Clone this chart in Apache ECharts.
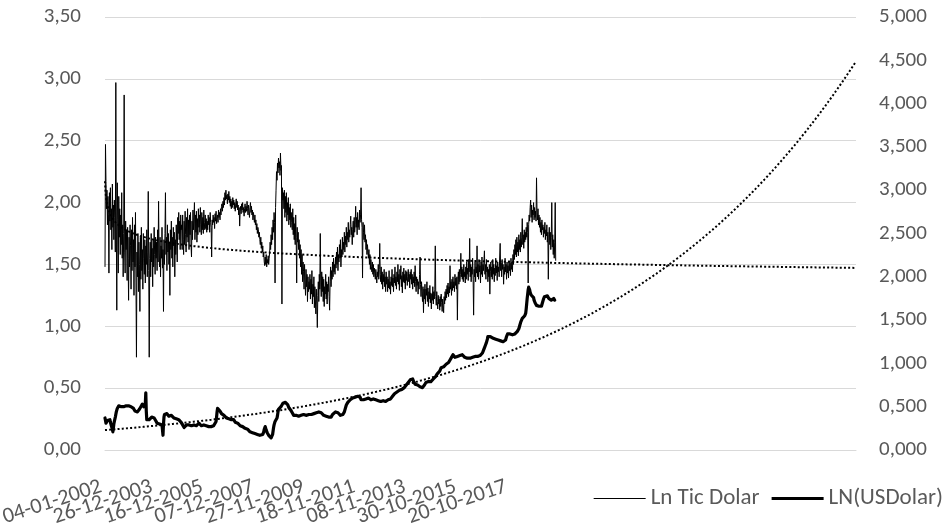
<!DOCTYPE html>
<html>
<head>
<meta charset="utf-8">
<script src="https://cdn.jsdelivr.net/npm/echarts@6/dist/echarts.min.js"></script>
<style>
  html, body { margin: 0; padding: 0; background: #ffffff; }
  #chart { width: 952px; height: 529px; }
</style>
</head>
<body>
<div id="chart"></div>
<script>
// Weekly observations starting on Friday 04-01-2002
const startYear = 2002, startMonth = 1, startDay = 4;
const labelEvery = 103;      // a date label every 103 weeks
const forecastWeeks = 611;   // trendlines are projected this many weeks forward

const seriesNames = ['Ln Tic Dolar', 'LN(USDolar)'];

// Ln Tic Dolar (left axis), one row per year
const lnTicDolar = [
  1.48,2.47,2.17,1.95,2.10,1.82,2.05,1.90,1.43,2.08,1.85,2.12,1.78,1.95,1.62,2.15,1.80,1.98,1.70,2.02,1.88,1.60,2.97,1.85,1.13,2.16,1.86,1.43,2.05,1.72,1.95,1.58,1.90,1.66,2.08,1.55,1.82,1.40,1.75,2.87,1.60,1.43,1.85,1.62,1.78,1.37,1.80,1.55,1.21,1.72,1.48,1.82,
  1.65,1.30,1.78,1.45,1.88,1.52,1.70,1.25,1.82,1.48,1.92,1.35,0.75,1.60,1.40,1.75,1.28,1.68,1.50,1.12,1.72,1.38,1.80,1.45,1.62,1.30,1.75,1.55,1.42,1.70,1.35,1.65,1.50,1.78,1.40,1.60,2.09,1.45,0.75,1.55,1.68,1.40,1.75,1.52,1.63,1.32,1.70,1.48,1.80,1.58,1.42,1.72,
  1.55,1.68,1.45,1.78,1.52,2.01,1.60,1.48,1.72,1.40,1.65,1.55,1.80,1.47,1.62,1.12,1.70,1.50,1.75,2.08,1.58,1.72,1.45,1.82,1.60,1.75,1.50,1.68,1.25,1.78,1.62,1.85,1.55,1.72,1.48,1.80,1.65,1.76,1.40,1.70,1.58,1.82,1.66,1.52,1.88,1.75,1.92,1.70,1.85,1.62,1.90,1.78,
  1.82,1.62,1.90,1.70,1.58,1.85,1.66,1.93,1.74,1.60,1.88,1.72,1.95,1.68,1.86,1.62,1.90,1.74,1.92,1.66,1.56,1.85,1.70,1.94,1.78,1.88,2.00,1.70,1.90,1.76,1.93,1.68,1.87,1.74,1.95,1.80,1.90,1.76,1.96,1.82,1.74,1.92,1.78,1.88,1.75,1.94,1.84,1.78,1.90,1.79,1.87,1.76,
  1.85,1.78,1.90,1.82,1.88,1.76,1.92,1.84,1.80,1.56,1.86,1.82,1.90,1.84,1.88,1.79,1.91,1.85,1.93,1.83,1.87,1.90,1.84,1.94,1.88,1.92,1.86,1.95,1.90,1.97,1.99,1.93,2.01,1.96,2.04,1.98,2.08,2.02,2.10,2.03,2.06,1.99,2.07,2.02,2.09,2.00,2.05,1.97,2.03,1.95,2.01,1.96,
  2.04,1.98,2.02,1.95,2.00,1.93,1.99,2.03,1.96,2.01,1.94,1.98,1.90,1.96,1.81,1.93,1.97,1.91,1.99,1.94,2.00,1.92,1.96,1.89,1.95,1.99,1.92,1.97,1.93,2.01,1.95,1.90,1.98,1.93,1.88,1.96,2.00,1.92,1.97,1.90,1.94,1.86,1.92,1.88,1.84,1.90,1.82,1.86,1.78,1.83,1.75,1.80,
  1.78,1.72,1.76,1.70,1.66,1.72,1.63,1.68,1.60,1.65,1.56,1.60,1.52,1.49,1.56,1.50,1.58,1.48,1.54,1.51,1.57,1.50,1.55,1.60,1.68,1.62,1.74,1.66,1.80,1.70,1.86,1.76,1.92,1.84,1.35,1.96,2.10,2.25,2.18,2.32,2.24,2.36,2.28,2.33,2.22,2.40,2.26,2.30,1.18,2.12,2.02,2.08,
  1.95,2.10,1.88,2.05,1.92,2.08,1.85,2.00,1.90,2.04,1.82,1.96,1.86,1.99,1.80,1.92,1.84,1.78,1.95,1.74,1.88,1.70,1.83,1.66,1.90,1.72,1.35,1.80,1.68,1.76,1.62,1.70,1.55,1.66,1.48,1.62,1.42,1.58,1.36,1.52,1.44,1.30,1.50,1.38,1.25,1.46,1.32,1.42,1.20,1.40,1.28,1.36,
  1.30,1.42,1.22,1.38,1.26,1.45,1.18,1.34,1.24,1.40,1.15,1.32,1.22,1.10,1.30,1.18,0.99,1.25,1.36,1.20,1.42,1.30,1.75,1.35,1.24,1.44,1.28,1.40,1.20,1.38,1.16,1.32,1.26,1.42,1.22,1.36,1.18,1.34,1.28,1.40,1.24,1.13,1.36,1.48,1.32,1.45,1.38,1.52,1.40,1.55,1.44,1.50,
  1.42,1.56,1.47,1.60,1.50,1.64,1.45,1.58,1.52,1.66,1.55,1.70,1.48,1.62,1.56,1.72,1.58,1.68,1.62,1.76,1.60,1.73,1.66,1.80,1.64,1.76,1.70,1.84,1.68,1.78,1.72,1.82,1.89,1.74,1.80,1.66,1.78,1.85,1.72,1.88,1.76,1.82,1.97,1.80,1.88,1.74,1.92,1.80,1.86,1.78,1.94,1.84,
  1.90,2.12,1.86,1.80,1.39,1.84,1.76,1.70,1.82,1.68,1.74,1.62,1.70,1.58,1.66,1.60,1.55,1.62,1.50,1.58,1.46,1.54,1.48,1.44,1.52,1.42,1.50,1.40,1.47,1.43,1.38,1.46,1.41,1.35,1.44,1.40,1.50,1.38,1.46,1.67,1.42,1.36,1.48,1.34,1.44,1.30,1.42,1.36,1.46,1.32,1.40,1.28,
  1.44,1.34,1.40,1.28,1.38,1.31,1.45,1.30,1.36,1.26,1.40,1.33,1.46,1.32,1.39,1.28,1.42,1.35,1.48,1.33,1.40,1.30,1.44,1.36,1.50,1.34,1.42,1.29,1.46,1.38,1.49,1.32,1.41,1.27,1.44,1.36,1.47,1.35,1.42,1.30,1.45,1.37,1.44,1.33,1.40,1.46,1.36,1.42,1.31,1.44,1.38,1.46,
  1.34,1.42,1.30,1.40,1.35,1.44,1.32,1.49,1.36,1.28,1.40,1.33,1.38,1.26,1.36,1.30,1.42,1.56,1.34,1.24,1.36,1.28,1.20,1.32,1.11,1.30,1.22,1.34,1.18,1.30,1.25,1.36,1.20,1.31,1.16,1.28,1.22,1.33,1.19,1.27,1.14,1.26,1.21,1.32,1.18,1.28,1.22,1.30,1.65,1.24,1.17,1.28,
  1.20,1.14,1.25,1.18,1.22,1.13,1.24,1.16,1.26,1.19,1.12,1.22,1.17,1.11,1.24,1.18,1.28,1.21,1.30,1.23,1.33,1.26,1.35,1.24,1.32,1.27,1.49,1.30,1.36,1.25,1.38,1.29,1.40,1.31,1.36,1.28,1.42,1.33,1.39,1.30,1.40,1.05,1.38,1.44,1.34,1.46,1.36,1.42,1.59,1.40,1.48,1.38,
  1.46,1.36,1.50,1.40,1.44,1.35,1.48,1.38,1.52,1.42,1.47,1.37,1.54,1.44,1.71,1.40,1.50,1.36,1.48,1.42,1.55,1.38,1.09,1.46,1.40,1.52,1.36,1.48,1.43,1.65,1.40,1.50,1.38,1.54,1.44,1.49,1.35,1.52,1.42,1.56,1.40,1.50,1.45,1.53,1.61,1.42,1.50,1.38,1.54,1.44,1.48,1.36,
  1.46,1.40,1.50,1.26,1.44,1.52,1.40,1.48,1.38,1.54,1.42,1.50,1.36,1.47,1.41,1.55,1.43,1.49,1.37,1.52,1.44,1.48,1.40,1.56,1.67,1.45,1.51,1.40,1.54,1.46,1.50,1.34,1.48,1.42,1.55,1.44,1.50,1.38,1.52,1.43,1.49,1.39,1.53,1.45,1.51,1.41,1.55,1.46,1.52,1.44,1.58,1.50,
  1.62,1.54,1.66,1.58,1.70,1.56,1.72,1.60,1.68,1.57,1.74,1.62,1.70,1.60,1.76,1.64,1.72,1.87,1.66,1.74,1.63,1.78,1.68,1.76,1.70,1.80,1.72,1.84,1.76,1.35,1.82,1.90,1.85,1.96,2.02,1.88,1.98,1.84,1.94,1.90,2.00,1.86,1.96,1.88,1.93,1.85,2.20,1.92,1.86,1.95,1.82,1.90,
  1.80,1.88,1.76,1.84,1.74,1.86,1.78,1.82,1.72,1.80,1.75,1.84,1.70,1.78,1.73,1.82,1.68,1.76,1.38,1.74,1.80,1.66,1.76,1.62,1.72,2.00,1.64,1.74,1.58,1.70,1.55,1.68,2.00,1.53
];

// LN(USDolar) (right axis), one row per year
const lnUsDolar = [
  0.37,0.34,0.31,0.31,0.33,0.34,0.33,0.35,0.34,0.36,0.35,0.32,0.30,0.28,0.26,0.24,0.21,0.25,0.30,0.33,0.35,0.38,0.41,0.44,0.46,0.48,0.49,0.50,0.51,0.50,0.52,0.52,0.51,0.50,0.51,0.49,0.50,0.51,0.50,0.49,0.51,0.50,0.52,0.51,0.50,0.51,0.52,0.50,0.51,0.52,0.51,0.50,
  0.51,0.50,0.51,0.50,0.49,0.50,0.48,0.47,0.46,0.45,0.46,0.44,0.45,0.46,0.44,0.45,0.44,0.46,0.47,0.48,0.49,0.50,0.51,0.52,0.53,0.54,0.52,0.50,0.49,0.51,0.53,0.66,0.45,0.35,0.36,0.35,0.34,0.36,0.35,0.34,0.36,0.37,0.36,0.38,0.39,0.40,0.40,0.39,0.37,0.36,0.35,0.34,
  0.33,0.32,0.31,0.32,0.31,0.30,0.31,0.30,0.29,0.30,0.31,0.30,0.29,0.27,0.17,0.30,0.38,0.41,0.42,0.43,0.42,0.41,0.42,0.40,0.41,0.40,0.39,0.40,0.39,0.38,0.39,0.40,0.39,0.38,0.39,0.38,0.37,0.38,0.37,0.36,0.37,0.36,0.35,0.36,0.35,0.34,0.35,0.34,0.35,0.34,0.33,0.32,
  0.31,0.30,0.29,0.28,0.27,0.26,0.26,0.25,0.27,0.28,0.29,0.30,0.31,0.31,0.30,0.29,0.30,0.29,0.30,0.29,0.28,0.29,0.30,0.29,0.28,0.29,0.30,0.29,0.28,0.29,0.28,0.29,0.30,0.29,0.30,0.31,0.30,0.29,0.30,0.29,0.28,0.29,0.30,0.29,0.28,0.29,0.28,0.27,0.28,0.29,0.28,0.27,
  0.28,0.27,0.28,0.27,0.28,0.27,0.27,0.28,0.27,0.28,0.29,0.28,0.29,0.28,0.29,0.28,0.29,0.30,0.33,0.38,0.44,0.48,0.47,0.50,0.48,0.46,0.45,0.44,0.43,0.42,0.43,0.41,0.40,0.41,0.40,0.39,0.38,0.39,0.38,0.37,0.38,0.37,0.36,0.37,0.36,0.35,0.36,0.35,0.36,0.35,0.34,0.35,
  0.35,0.34,0.35,0.34,0.33,0.32,0.33,0.32,0.31,0.32,0.31,0.30,0.31,0.30,0.29,0.28,0.29,0.28,0.27,0.28,0.27,0.27,0.26,0.25,0.26,0.25,0.24,0.25,0.24,0.23,0.24,0.23,0.22,0.23,0.22,0.21,0.22,0.21,0.20,0.21,0.20,0.19,0.20,0.19,0.18,0.19,0.18,0.17,0.17,0.17,0.18,0.17,
  0.18,0.17,0.18,0.17,0.18,0.19,0.18,0.19,0.19,0.18,0.19,0.21,0.24,0.26,0.27,0.25,0.23,0.21,0.20,0.19,0.18,0.17,0.18,0.17,0.17,0.15,0.14,0.14,0.15,0.18,0.22,0.26,0.29,0.31,0.33,0.34,0.34,0.35,0.37,0.40,0.44,0.47,0.48,0.47,0.49,0.48,0.50,0.49,0.50,0.52,0.54,0.55,
  0.56,0.55,0.56,0.55,0.54,0.55,0.56,0.54,0.52,0.50,0.49,0.48,0.48,0.47,0.46,0.45,0.44,0.43,0.42,0.41,0.40,0.40,0.41,0.40,0.39,0.40,0.39,0.40,0.39,0.38,0.39,0.38,0.39,0.38,0.39,0.40,0.39,0.40,0.39,0.40,0.41,0.40,0.39,0.40,0.41,0.40,0.39,0.40,0.41,0.40,0.40,0.41,
  0.40,0.40,0.41,0.40,0.41,0.42,0.41,0.42,0.41,0.42,0.43,0.42,0.43,0.44,0.43,0.44,0.45,0.44,0.45,0.44,0.45,0.44,0.43,0.42,0.43,0.42,0.41,0.42,0.41,0.40,0.41,0.40,0.39,0.40,0.39,0.38,0.39,0.38,0.37,0.38,0.37,0.36,0.36,0.37,0.38,0.39,0.40,0.41,0.42,0.43,0.42,0.43,
  0.43,0.44,0.45,0.44,0.43,0.42,0.43,0.42,0.41,0.42,0.41,0.40,0.41,0.40,0.41,0.40,0.41,0.40,0.42,0.44,0.46,0.48,0.50,0.52,0.53,0.54,0.55,0.56,0.55,0.56,0.57,0.58,0.59,0.60,0.60,0.59,0.60,0.59,0.60,0.61,0.60,0.61,0.62,0.61,0.62,0.61,0.62,0.63,0.62,0.61,0.62,0.61,
  0.60,0.58,0.56,0.57,0.56,0.57,0.58,0.57,0.58,0.59,0.58,0.59,0.58,0.59,0.60,0.59,0.60,0.59,0.60,0.60,0.59,0.58,0.59,0.58,0.59,0.58,0.59,0.58,0.57,0.58,0.57,0.58,0.57,0.58,0.57,0.58,0.57,0.58,0.57,0.56,0.57,0.56,0.57,0.56,0.57,0.56,0.57,0.56,0.57,0.56,0.57,0.56,
  0.57,0.57,0.58,0.57,0.58,0.57,0.58,0.59,0.58,0.59,0.60,0.60,0.61,0.62,0.61,0.63,0.64,0.65,0.64,0.66,0.67,0.66,0.67,0.66,0.67,0.67,0.68,0.69,0.68,0.69,0.70,0.69,0.70,0.69,0.70,0.69,0.71,0.72,0.73,0.74,0.73,0.75,0.76,0.75,0.77,0.78,0.77,0.79,0.80,0.81,0.82,0.82,
  0.83,0.83,0.82,0.81,0.79,0.78,0.77,0.76,0.75,0.76,0.75,0.76,0.75,0.75,0.74,0.75,0.74,0.73,0.74,0.73,0.74,0.73,0.72,0.73,0.73,0.74,0.75,0.76,0.77,0.78,0.77,0.78,0.79,0.78,0.79,0.78,0.79,0.79,0.80,0.79,0.80,0.81,0.80,0.81,0.82,0.81,0.82,0.83,0.84,0.85,0.86,0.87,
  0.88,0.87,0.88,0.89,0.90,0.91,0.92,0.93,0.95,0.96,0.95,0.96,0.97,0.96,0.97,0.98,0.97,0.98,0.99,0.98,0.99,1.00,1.00,1.01,1.02,1.03,1.04,1.05,1.06,1.07,1.08,1.09,1.10,1.10,1.09,1.08,1.07,1.08,1.07,1.06,1.07,1.08,1.07,1.08,1.07,1.08,1.09,1.08,1.09,1.10,1.09,1.10,
  1.09,1.10,1.09,1.08,1.07,1.08,1.07,1.06,1.07,1.06,1.07,1.06,1.05,1.06,1.06,1.06,1.07,1.06,1.07,1.08,1.07,1.08,1.07,1.08,1.07,1.08,1.07,1.08,1.08,1.09,1.08,1.09,1.10,1.09,1.10,1.09,1.10,1.09,1.10,1.11,1.12,1.13,1.15,1.16,1.18,1.19,1.21,1.22,1.24,1.25,1.28,1.31,
  1.33,1.32,1.31,1.30,1.31,1.30,1.29,1.30,1.29,1.29,1.29,1.28,1.29,1.28,1.27,1.28,1.27,1.28,1.27,1.26,1.27,1.28,1.27,1.26,1.27,1.26,1.25,1.26,1.25,1.26,1.25,1.26,1.25,1.26,1.25,1.27,1.29,1.31,1.33,1.34,1.35,1.35,1.34,1.33,1.34,1.33,1.32,1.33,1.32,1.33,1.33,1.33,
  1.34,1.33,1.34,1.35,1.34,1.35,1.36,1.37,1.38,1.39,1.40,1.42,1.44,1.46,1.48,1.50,1.50,1.52,1.53,1.54,1.53,1.54,1.55,1.56,1.58,1.63,1.69,1.75,1.80,1.85,1.88,1.89,1.85,1.82,1.80,1.79,1.80,1.79,1.80,1.79,1.76,1.73,1.71,1.70,1.69,1.68,1.67,1.66,1.67,1.66,1.67,1.66,
  1.66,1.67,1.66,1.67,1.66,1.68,1.70,1.72,1.74,1.76,1.77,1.78,1.79,1.78,1.79,1.79,1.78,1.77,1.76,1.75,1.74,1.74,1.73,1.74,1.73,1.73,1.74,1.75,1.74,1.75,1.74,1.73,1.74,1.74
];

const leftTicks = { min: 0, max: 3.5, step: 0.5, decimals: 2 };
const rightTicks = { min: 0, max: 5, step: 0.5, decimals: 3 };

// ---- weekly date categories (observed weeks + projection weeks) ----
const pad = n => (n < 10 ? '0' : '') + n;
const observedWeeks = lnTicDolar.length;
const totalWeeks = observedWeeks + forecastWeeks;
const t0 = Date.UTC(startYear, startMonth - 1, startDay);
const weekDates = [];
for (let i = 0; i < totalWeeks; i++) {
  const d = new Date(t0 + i * 7 * 86400000);
  weekDates.push(pad(d.getUTCDate()) + '-' + pad(d.getUTCMonth() + 1) + '-' + d.getUTCFullYear());
}

// ---- least-squares trendlines, x = 1..n as in a spreadsheet ----
function powerTrend(ys) {            // y = a * x^b
  let n = ys.length, sx = 0, sy = 0, sxx = 0, sxy = 0;
  ys.forEach((y, i) => { const x = Math.log(i + 1), l = Math.log(y); sx += x; sy += l; sxx += x * x; sxy += x * l; });
  const b = (n * sxy - sx * sy) / (n * sxx - sx * sx);
  const a = Math.exp((sy - b * sx) / n);
  return x => a * Math.pow(x, b);
}
function expTrend(ys) {              // y = a * e^(b x)
  let n = ys.length, sx = 0, sy = 0, sxx = 0, sxy = 0;
  ys.forEach((y, i) => { const x = i + 1, l = Math.log(y); sx += x; sy += l; sxx += x * x; sxy += x * l; });
  const b = (n * sxy - sx * sy) / (n * sxx - sx * sx);
  const a = Math.exp((sy - b * sx) / n);
  return x => a * Math.exp(b * x);
}
const ticFit = powerTrend(lnTicDolar);
const usdFit = expTrend(lnUsDolar);
const ticTrend = weekDates.map((_, i) => ticFit(i + 1));
const usdTrend = weekDates.map((_, i) => usdFit(i + 1));

const FONT = 'Carlito, Lato, "Noto Sans", sans-serif';
const TEXT = '#595959';
const GRID = '#d9d9d9';

const chart = echarts.init(document.getElementById('chart'), null, { renderer: 'canvas' });
chart.setOption({
  animation: false,
  backgroundColor: '#ffffff',
  textStyle: { fontFamily: FONT },
  grid: {
    left: 105, right: 96, top: 17, bottom: 79,
    containLabel: false,
    outerBoundsMode: 'none'   // keep the plot rectangle fixed; labels may spill past it
  },
  legend: {
    data: [
      { name: seriesNames[0], icon: 'path://M0,0H52V1H0Z' },
      { name: seriesNames[1], icon: 'path://M0,0H52V3.2H0Z' }
    ],
    symbolKeepAspect: true,
    right: 4,
    top: 482,
    itemWidth: 52,
    itemHeight: 24,
    itemGap: 12,
    textStyle: { fontFamily: FONT, fontSize: 23, color: TEXT }
  },
  xAxis: {
    type: 'category',
    boundaryGap: false,
    data: weekDates,
    axisLine: { show: true, lineStyle: { color: GRID, width: 1 } },
    axisTick: { show: false },
    splitLine: { show: false },
    axisLabel: {
      // every category gets a label slot; only one date in every 103 weeks is printed
      interval: 0,
      hideOverlap: false,
      rotate: 18,
      margin: 35,
      padding: [0, 4, 0, 0],
      fontFamily: FONT,
      fontSize: 22,
      color: TEXT,
      formatter: (v, idx) => (idx < observedWeeks && idx % labelEvery === 0 ? v : '')
    }
  },
  yAxis: [
    {
      type: 'value',
      min: leftTicks.min, max: leftTicks.max, interval: leftTicks.step,
      axisLine: { show: false }, axisTick: { show: false },
      splitLine: { show: true, lineStyle: { color: GRID, width: 1 } },
      axisLabel: {
        margin: 24, fontFamily: FONT, fontSize: 21, color: TEXT,
        formatter: v => v.toFixed(leftTicks.decimals).replace('.', ',')
      }
    },
    {
      type: 'value',
      min: rightTicks.min, max: rightTicks.max, interval: rightTicks.step,
      axisLine: { show: false }, axisTick: { show: false },
      splitLine: { show: false },
      axisLabel: {
        margin: 23, fontFamily: FONT, fontSize: 21, color: TEXT,
        formatter: v => v.toFixed(rightTicks.decimals).replace('.', ',')
      }
    }
  ],
  series: [
    {
      name: seriesNames[0], type: 'line', yAxisIndex: 0, data: lnTicDolar,
      symbol: 'none', showSymbol: false,
      lineStyle: { color: '#000000', width: 1 },
      itemStyle: { color: '#000000' },
      z: 2
    },
    {
      name: seriesNames[1], type: 'line', yAxisIndex: 1, data: lnUsDolar,
      symbol: 'none', showSymbol: false,
      lineStyle: { color: '#000000', width: 3.2, join: 'round', cap: 'round' },
      itemStyle: { color: '#000000' },
      z: 3
    },
    {
      name: 'trend-tic', type: 'line', yAxisIndex: 0, data: ticTrend,
      symbol: 'none', showSymbol: false, silent: true,
      lineStyle: { color: '#000000', width: 2, type: [2, 2.2] },
      z: 4
    },
    {
      name: 'trend-usd', type: 'line', yAxisIndex: 1, data: usdTrend,
      symbol: 'none', showSymbol: false, silent: true,
      lineStyle: { color: '#000000', width: 2, type: [2, 2.2] },
      z: 4
    }
  ]
});
</script>
</body>
</html>
